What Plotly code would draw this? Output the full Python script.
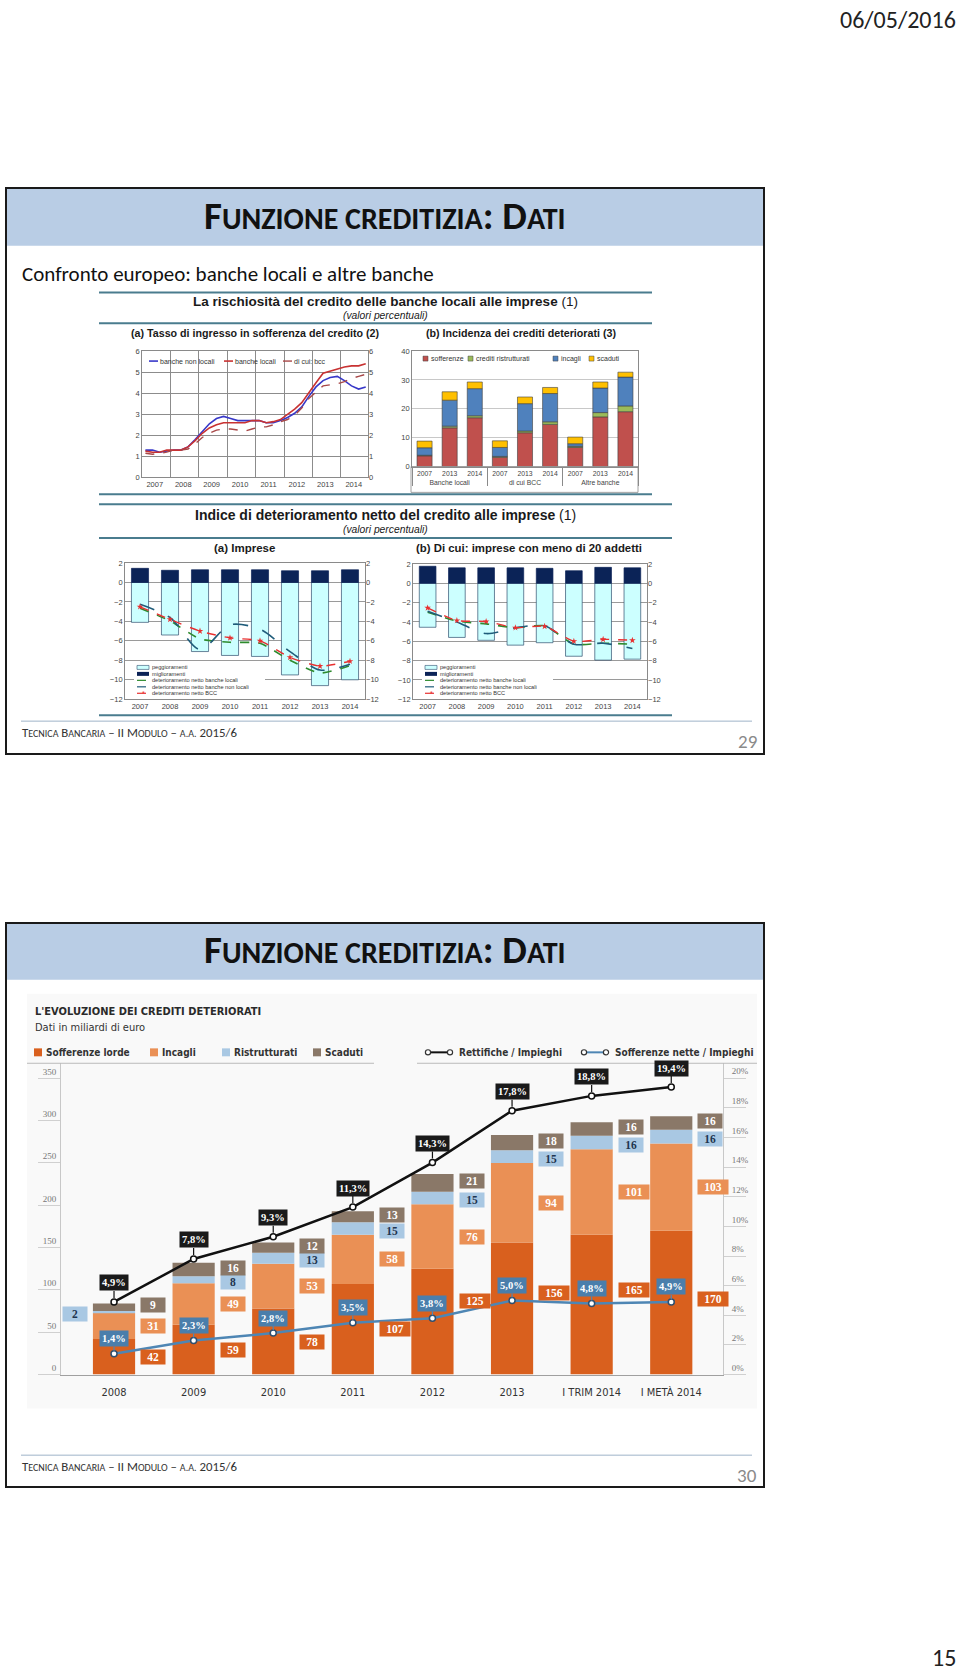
import plotly.graph_objects as go

W, H = 960, 1676
def X(p): return p / W
def Y(p): return 1 - p / H

ARI = "Liberation Sans, Arial, sans-serif"
CAL = "Carlito, Calibri, Open Sans, sans-serif"
CON = "DejaVu Sans Condensed, Liberation Sans Narrow, Roboto, sans-serif"
SER = "Liberation Serif, Times New Roman, serif"

# ---------------- DATA ----------------
# Slide 29, panel (a): tasso di ingresso in sofferenza (quarterly)
quarters = [2007.12, 2007.37, 2007.62, 2007.87, 2008.12, 2008.37, 2008.62, 2008.87,
            2009.12, 2009.37, 2009.62, 2009.87, 2010.12, 2010.37, 2010.62, 2010.87,
            2011.12, 2011.37, 2011.62, 2011.87, 2012.12, 2012.37, 2012.62, 2012.87,
            2013.12, 2013.37, 2013.62, 2013.87, 2014.12, 2014.37, 2014.62, 2014.87]
non_locali = [1.30, 1.30, 1.20, 1.25, 1.30, 1.30, 1.45, 1.80, 2.15, 2.55, 2.80, 2.90,
              2.80, 2.70, 2.70, 2.70, 2.70, 2.60, 2.60, 2.70, 2.85, 3.05, 3.35, 3.85,
              4.30, 4.60, 4.75, 4.80, 4.60, 4.35, 4.20, 4.30]
locali = [1.25, 1.20, 1.20, 1.30, 1.30, 1.30, 1.45, 1.75, 2.10, 2.35, 2.50, 2.60,
          2.60, 2.60, 2.60, 2.70, 2.70, 2.60, 2.65, 2.75, 3.00, 3.25, 3.55, 4.05,
          4.50, 4.95, 5.05, 5.15, 5.25, 5.30, 5.30, 5.40]
bcc = [1.15, 1.10, 1.15, 1.20, 1.30, 1.30, 1.35, 1.60, 1.90, 2.10, 2.25, 2.30,
       2.30, 2.25, 2.20, 2.30, 2.40, 2.40, 2.50, 2.65, 2.75, 2.95, 3.30, 3.75,
       4.05, 4.35, 4.40, 4.45, 4.55, 4.70, 4.80, 4.90]
years_a = ["2007", "2008", "2009", "2010", "2011", "2012", "2013", "2014"]
year_num = [2007, 2008, 2009, 2010, 2011, 2012, 2013, 2014]

# panel (b): incidenza dei crediti deteriorati
groups_b = ["Banche locali", "Banche locali", "Banche locali",
            "di cui BCC", "di cui BCC", "di cui BCC",
            "Altre banche", "Altre banche", "Altre banche"]
years_b = ["2007", "2013", "2014", "2007", "2013", "2014", "2007", "2013", "2014"]
sofferenze_b = [3.7, 13.4, 16.9, 3.2, 11.7, 14.6, 6.6, 17.2, 19.0]
ristrutturati_b = [0.2, 0.6, 0.7, 0.3, 0.6, 0.9, 0.4, 1.5, 2.0]
incagli_b = [2.6, 9.0, 9.4, 3.1, 9.5, 9.8, 0.9, 8.5, 10.0]
scaduti_b = [2.3, 2.9, 2.3, 2.3, 2.3, 2.1, 2.3, 2.1, 1.7]

# Indice di deterioramento netto: (a) Imprese
pegg_a = [-4.1, -5.4, -7.1, -7.5, -7.6, -9.5, -10.6, -10.0]
migl_a = [1.45, 1.25, 1.3, 1.3, 1.3, 1.2, 1.2, 1.3]
loc_a = [-2.65, -3.95, -5.8, -6.15, -6.25, -8.0, -9.3, -8.55]
nonloc_a = [-2.25, -3.6, -6.9, -4.35, -4.8, -7.1, -9.0, -8.4]
bcc_a = [-2.5, -3.8, -5.0, -5.7, -6.0, -7.7, -8.6, -8.1]
# (b) imprese con meno di 20 addetti
pegg_b = [-4.55, -5.6, -5.9, -6.4, -6.15, -7.55, -7.95, -7.85]
migl_b = [1.76, 1.6, 1.6, 1.6, 1.55, 1.3, 1.65, 1.6]
loc_b = [-3.0, -3.9, -4.2, -4.6, -4.4, -6.3, -6.2, -6.3]
nonloc_b = [-2.9, -4.0, -5.2, -4.6, -4.4, -6.3, -6.2, -6.75]
bcc_b = [-2.55, -3.85, -3.95, -4.6, -4.45, -6.0, -5.8, -5.9]

# Slide 30: l'evoluzione dei crediti deteriorati (mld euro)
periods = ["2008", "2009", "2010", "2011", "2012", "2013", "I TRIM 2014", "I METÀ 2014"]
soff_lorde = [42, 59, 78, 107, 125, 156, 165, 170]
incagli = [31, 49, 53, 58, 76, 94, 101, 103]
ristrutturati = [2, 8, 13, 15, 15, 15, 16, 16]
scaduti = [9, 16, 12, 13, 21, 18, 16, 16]
rettifiche = [4.9, 7.8, 9.3, 11.3, 14.3, 17.8, 18.8, 19.4]
soff_nette = [1.4, 2.3, 2.8, 3.5, 3.8, 5.0, 4.8, 4.9]
left_ticks = [0, 50, 100, 150, 200, 250, 300, 350]
right_ticks = [0, 2, 4, 6, 8, 10, 12, 14, 16, 18, 20]

# ---------------- STYLE ----------------
C_BLUE_A, C_RED_A, C_BCC_A = "#3838C8", "#C83232", "#A84848"
C_SOFF, C_RIS, C_INC, C_SCA = "#C0504D", "#9BBB59", "#4F81BD", "#FFC000"
C_PEG, C_MIG = "#CCFFFF", "#0B2357"
C_LOC, C_NONLOC, C_BCC = "#2E8B2E", "#1F5C7A", "#E83030"
S_SOFF, S_INC, S_RIS, S_SCA = "#D9601E", "#EA9055", "#A9C8E3", "#8A7868"
C_RET, C_NET = "#111111", "#4E86B4"

fig = go.Figure()
nohover = dict(hoverinfo="skip")

# panel (a)
fig.add_trace(go.Scatter(x=quarters, y=non_locali, mode="lines", name="banche non locali",
                         line=dict(color=C_BLUE_A, width=1.6), xaxis="x", yaxis="y", **nohover))
fig.add_trace(go.Scatter(x=quarters, y=locali, mode="lines", name="banche locali",
                         line=dict(color=C_RED_A, width=1.6), xaxis="x", yaxis="y", **nohover))
fig.add_trace(go.Scatter(x=quarters, y=bcc, mode="lines", name="di cui: bcc",
                         line=dict(color=C_BCC_A, width=1.4, dash="dash"), xaxis="x", yaxis="y", **nohover))
fig.add_trace(go.Scatter(x=[], y=[], xaxis="x", yaxis="y2", showlegend=False))

# panel (b)
for nm, vals, col in [("sofferenze", sofferenze_b, C_SOFF), ("crediti ristrutturati", ristrutturati_b, C_RIS),
                      ("incagli", incagli_b, C_INC), ("scaduti", scaduti_b, C_SCA)]:
    fig.add_trace(go.Bar(x=[groups_b, years_b], y=vals, name=nm, width=0.6,
                         marker=dict(color=col, line=dict(color="#404040", width=0.6)),
                         xaxis="x2", yaxis="y3", **nohover))

# panels (c) and (d)
def panel_cd(xa, ya, yr, pegg, migl, loc, nonloc, bc):
    fig.add_trace(go.Bar(x=year_num, y=pegg, name="peggioramenti", width=0.57,
                         marker=dict(color=C_PEG, line=dict(color="#2F4F6F", width=0.7)),
                         xaxis=xa, yaxis=ya, **nohover))
    fig.add_trace(go.Bar(x=year_num, y=migl, name="miglioramenti", width=0.57,
                         marker=dict(color=C_MIG, line=dict(color=C_MIG, width=0.7)),
                         xaxis=xa, yaxis=ya, **nohover))
    fig.add_trace(go.Scatter(x=year_num, y=loc, mode="lines", name="deterioramento netto banche locali",
                             line=dict(color=C_LOC, width=1.6, dash="dash", shape="spline", smoothing=0.6),
                             xaxis=xa, yaxis=ya, **nohover))
    fig.add_trace(go.Scatter(x=year_num, y=nonloc, mode="lines", name="deterioramento netto banche non locali",
                             line=dict(color=C_NONLOC, width=1.6, dash="longdash", shape="spline", smoothing=0.8),
                             xaxis=xa, yaxis=ya, **nohover))
    fig.add_trace(go.Scatter(x=year_num, y=bc, mode="lines+markers", name="deterioramento netto BCC",
                             line=dict(color=C_BCC, width=1.4, dash="dash", shape="spline", smoothing=0.6),
                             marker=dict(symbol="star", size=5, color=C_BCC),
                             xaxis=xa, yaxis=ya, **nohover))
    fig.add_trace(go.Scatter(x=[], y=[], xaxis=xa, yaxis=yr, showlegend=False))

panel_cd("x3", "y4", "y5", pegg_a, migl_a, loc_a, nonloc_a, bcc_a)
panel_cd("x4", "y6", "y7", pegg_b, migl_b, loc_b, nonloc_b, bcc_b)

# slide 30 chart
xs = list(range(len(periods)))
BW = 0.53
for nm, vals, col in [("Sofferenze lorde", soff_lorde, S_SOFF), ("Incagli", incagli, S_INC),
                      ("Ristrutturati", ristrutturati, S_RIS), ("Scaduti", scaduti, S_SCA)]:
    fig.add_trace(go.Bar(x=xs, y=vals, name=nm, width=BW, marker=dict(color=col, line=dict(width=0)),
                         xaxis="x5", yaxis="y8", **nohover))
fig.add_trace(go.Scatter(x=xs, y=rettifiche, mode="lines+markers", name="Rettifiche / Impieghi",
                         line=dict(color=C_RET, width=2.5),
                         marker=dict(symbol="circle", size=6, color="white", line=dict(color=C_RET, width=1.5)),
                         xaxis="x5", yaxis="y9", **nohover))
fig.add_trace(go.Scatter(x=xs, y=soff_nette, mode="lines+markers", name="Sofferenze nette / Impieghi",
                         line=dict(color=C_NET, width=2.5),
                         marker=dict(symbol="circle", size=6, color="white", line=dict(color="#2F4F6F", width=1.5)),
                         xaxis="x5", yaxis="y9", **nohover))

# ---------------- AXES ----------------
TF = dict(size=7.5, color="#444", family=ARI)
def ax(**kw):
    d = dict(showgrid=False, zeroline=False, ticks="", tickfont=TF, fixedrange=True)
    d.update(kw)
    return d

frame = dict(showline=True, mirror=True, linecolor="#8A8A8A", linewidth=0.8)
axes = dict(
    xaxis=ax(domain=[X(142), X(368)], range=[2007.0, 2014.95], anchor="y",
             tickvals=[v + 0.45 for v in year_num], ticktext=years_a,
             minor=dict(tickmode="array", tickvals=year_num[1:], showgrid=True, gridcolor="#8C8C8C", gridwidth=1),
             **frame),
    yaxis=ax(domain=[Y(476), Y(349)], range=[0, 6], dtick=1, anchor="x",
             showgrid=True, gridcolor="#8C8C8C", gridwidth=1, **frame),
    yaxis2=ax(overlaying="y", side="right", anchor="x", range=[0, 6], dtick=1),
    xaxis2=ax(domain=[X(412), X(638)], type="multicategory", anchor="y3",
              tickfont=dict(size=6.8, color="#444", family=ARI),
              showdividers=True, dividercolor="#8A8A8A", dividerwidth=0.8, **frame),
    yaxis3=ax(domain=[Y(465), Y(349)], range=[0, 40], dtick=10, anchor="x2",
              showgrid=True, gridcolor="#C8C8C8", gridwidth=1, **frame),
    xaxis3=ax(domain=[X(125), X(365)], range=[2006.5, 2014.5], anchor="y4",
              tickvals=year_num, ticktext=years_a, **frame),
    yaxis4=ax(domain=[Y(699), Y(562)], range=[-12, 2], dtick=2, anchor="x3",
              showgrid=True, gridcolor="#9A9A9A", gridwidth=0.8, **frame),
    yaxis5=ax(overlaying="y4", side="right", anchor="x3", range=[-12, 2], dtick=2),
    xaxis4=ax(domain=[X(413), X(647)], range=[2006.5, 2014.5], anchor="y6",
              tickvals=year_num, ticktext=years_a, **frame),
    yaxis6=ax(domain=[Y(699), Y(563)], range=[-12, 2], dtick=2, anchor="x4",
              showgrid=True, gridcolor="#9A9A9A", gridwidth=0.8, **frame),
    yaxis7=ax(overlaying="y6", side="right", anchor="x4", range=[-12, 2], dtick=2),
    xaxis5=ax(domain=[X(61), X(723)], range=[-0.666, 7.65], anchor="y8",
              tickvals=xs, ticktext=periods, ticklabelstandoff=7,
              tickfont=dict(size=11, color="#333", family=CON),
              showline=True, linecolor="#A0A0A0", linewidth=1),
    yaxis8=ax(domain=[Y(1378), Y(1065)], range=[0, 367.6], anchor="x5",
              tickvals=left_ticks, ticktext=[str(v) for v in left_ticks],
              ticklabelposition="outside top", ticks="outside", ticklen=22, tickcolor="#D0D0D0",
              ticklabelstandoff=2,
              tickfont=dict(size=9, color="#777", family=SER),
              showline=True, linecolor="#C8C8C8", linewidth=1),
    yaxis9=ax(overlaying="y8", side="right", anchor="x5", range=[0, 21.0],
              tickvals=right_ticks, ticktext=[f"{v}%" for v in right_ticks],
              ticklabelposition="outside top", ticks="outside", ticklen=22, tickcolor="#D0D0D0",
              ticklabelstandoff=6,
              tickfont=dict(size=9, color="#777", family=SER),
              showline=True, linecolor="#C8C8C8", linewidth=1),
)

# ---------------- SHAPES & TEXT ----------------
shapes, anns = [], []

def R(x0, y0, x1, y1, fill=None, line=None, lw=1, layer="above"):
    shapes.append(dict(type="rect", xref="paper", yref="paper", x0=X(x0), x1=X(x1), y0=Y(y1), y1=Y(y0),
                       fillcolor=fill if fill else "rgba(0,0,0,0)",
                       line=dict(color=line if line else "rgba(0,0,0,0)", width=lw if line else 0), layer=layer))

def L(x0, y0, x1, y1, color, lw=1, dash=None, layer="above"):
    d = dict(color=color, width=lw)
    if dash:
        d["dash"] = dash
    shapes.append(dict(type="line", xref="paper", yref="paper", x0=X(x0), x1=X(x1), y0=Y(y0), y1=Y(y1),
                       line=d, layer=layer))

def C(cx, cy, r, fill, line, lw=1.2):
    shapes.append(dict(type="circle", xref="paper", yref="paper", x0=X(cx - r), x1=X(cx + r),
                       y0=Y(cy + r), y1=Y(cy - r), fillcolor=fill, line=dict(color=line, width=lw)))

def T(x, y, s, size, color="#000", family=ARI, xa="left", ya="middle"):
    anns.append(dict(xref="paper", yref="paper", x=X(x), y=Y(y), text=s, showarrow=False,
                     xanchor=xa, yanchor=ya, font=dict(size=size, color=color, family=family), borderpad=0))

# slide frames
R(7, 186, 763, 243, fill="#B9CDE5", layer="below")
R(7, 925, 763, 981, fill="#B9CDE5", layer="below")
R(27, 995, 757, 1412, fill="#F9F9F9", layer="below")
R(6, 185, 764, 754, line="#1A1A1A", lw=2)
R(6, 924, 764, 1491, line="#1A1A1A", lw=2)

# date and page numbers
T(957, 16, "06/05/2016", 24, "#222", CAL, xa="right")
T(957, 1662, "15", 24, "#222", CAL, xa="right")

SC = "font-size:{}px"
def smallcaps_title():
    s = SC.format(30)
    return (f"<b>F<span style='{s}'>UNZIONE CREDITIZIA</span>: D<span style='{s}'>ATI</span></b>")
T(385, 213, smallcaps_title(), 39, "#111", CAL, xa="center")
T(385, 951, smallcaps_title(), 39, "#111", CAL, xa="center")

def footer(y, page):
    s = SC.format(10)
    txt = (f"T<span style='{s}'>ECNICA</span> B<span style='{s}'>ANCARIA</span> – II "
           f"M<span style='{s}'>ODULO</span> – <span style='{s}'>A.A.</span> 2015/6")
    T(21, y, txt, 12.8, "#333", CAL)
    T(758, y + 9, page, 19, "#8A8A8A", CAL, xa="right")
L(21, 721, 752, 721, "#9FB3C8", 1)
footer(732, "29")
L(21, 1459, 752, 1459, "#9FB3C8", 1)
footer(1470, "30")

T(21, 271, "Confronto europeo: banche locali e altre banche", 21, "#111", CAL)

# chart 1 headers
RULE = "#4A7C8E"
L(99, 290, 652, 290, RULE, 2)
L(99, 321, 652, 321, RULE, 2)
L(99, 493, 652, 493, RULE, 2)
T(385, 299, "<b>La rischiosità del credito delle banche locali alle imprese</b> (1)", 13.5, "#1A1A1A", ARI, xa="center")
T(385, 313, "<i>(valori percentuali)</i>", 10.3, "#1A1A1A", ARI, xa="center")
T(255, 331, "<b>(a) Tasso di ingresso in sofferenza del credito (2)</b>", 10.7, "#1A1A1A", ARI, xa="center")
T(521, 331, "<b>(b) Incidenza dei crediti deteriorati (3)</b>", 10.7, "#1A1A1A", ARI, xa="center")

# chart 2 headers
L(99, 503, 672, 503, RULE, 2)
L(99, 537, 672, 537, RULE, 2)
L(99, 715, 672, 715, RULE, 2)
T(385, 514, "<b>Indice di deterioramento netto del credito alle imprese</b> (1)", 14, "#1A1A1A", ARI, xa="center")
T(385, 528, "<i>(valori percentuali)</i>", 10.3, "#1A1A1A", ARI, xa="center")
T(245, 547, "<b>(a) Imprese</b>", 11.5, "#1A1A1A", ARI, xa="center")
T(529, 547, "<b>(b) Di cui: imprese con meno di 20 addetti</b>", 11.4, "#1A1A1A", ARI, xa="center")

# legend panel (a)
LF = 7
L(149, 359, 158, 359, C_BLUE_A, 1.6); T(159, 359, "banche non locali", LF, "#333")
L(224, 359, 233, 359, C_RED_A, 1.6); T(234, 359, "banche locali", LF, "#333")
L(283, 359, 292, 359, C_BCC_A, 1.4, "dash"); T(293, 359, "di cui: bcc", LF, "#333")

# legend panel (b)
R(411, 465, 638, 491, line="#8A8A8A", lw=0.8)
for x0, col, lab in [(423, C_SOFF, "sofferenze"), (468, C_RIS, "crediti ristrutturati"),
                     (553, C_INC, "incagli"), (589, C_SCA, "scaduti")]:
    R(x0, 354, x0 + 5, 359, fill=col, line="#404040", lw=0.5)
    T(x0 + 7, 356.5, lab, LF, "#333")

# legends panels (c),(d)
def legend_cd(x0):
    R(x0 - 3, 663, x0 + 128, 698, fill="white")
    rows = [667, 673.5, 680, 686.5, 693]
    R(x0, rows[0] - 2, x0 + 12, rows[0] + 2, fill=C_PEG, line="#2F4F6F", lw=0.6)
    R(x0, rows[1] - 2, x0 + 12, rows[1] + 2, fill=C_MIG)
    L(x0, rows[2], x0 + 12, rows[2], C_LOC, 1.2, "dash")
    L(x0, rows[3], x0 + 12, rows[3], C_NONLOC, 1.2, "dash")
    L(x0, rows[4], x0 + 12, rows[4], C_BCC, 1.2, "dash")
    T(x0 + 6, rows[4] + 0.5, "*", 7, C_BCC, xa="center")
    labs = ["peggioramenti", "miglioramenti", "deterioramento netto banche locali",
            "deterioramento netto banche non locali", "deterioramento netto BCC"]
    for r, lab in zip(rows, labs):
        T(x0 + 14, r, lab, 5.6, "#333")
legend_cd(137)
legend_cd(425)

# slide 30 headers and legend
T(34, 1013, "<b>L'EVOLUZIONE DEI CREDITI DETERIORATI</b>", 11, "#2A2A2A", CON)
T(34, 1029, "Dati in miliardi di euro", 11, "#333", CON)
for x0, col, lab in [(34, S_SOFF, "Sofferenze lorde"), (150, S_INC, "Incagli"),
                     (222, S_RIS, "Ristrutturati"), (313, S_SCA, "Scaduti")]:
    R(x0, 1050, x0 + 8, 1058, fill=col)
    T(x0 + 11, 1054, f"<b>{lab}</b>", 10, "#333", CON)
for x0, col, lab in [(428, C_RET, "Rettifiche / Impieghi"), (584, C_NET, "Sofferenze nette / Impieghi")]:
    L(x0, 1054, x0 + 22, 1054, col, 2)
    C(x0, 1054, 2.6, "white", "#333", 1.2)
    C(x0 + 22, 1054, 2.6, "white", "#333", 1.2)
    T(x0 + 30, 1054, f"<b>{lab}</b>", 10, "#333", CON)
L(27, 1065, 374, 1065, "#BBBBBB", 1)
L(417, 1065, 757, 1065, "#BBBBBB", 1)

# value labels next to bars
def fmt_pct(v):
    return f"{v:.1f}".replace(".", ",") + "%"

soff_shift = [0, 0, 0, 0, 21, 16, 15, 4]
segments = [(soff_lorde, S_SOFF, "white"), (incagli, S_INC, "white"),
            (ristrutturati, S_RIS, "#1F3550"), (scaduti, S_SCA, "white")]
for i in xs:
    base = 0
    for k, (vals, col, tcol) in enumerate(segments):
        v = vals[i]
        center = base + v / 2
        base += v
        shift = 0
        if k == 0:
            shift = soff_shift[i]
        elif k == 2:
            shift = -2
        elif k == 3:
            shift = 2
        left_side = (k == 2 and i == 0)
        txt = str(v)
        anns.append(dict(xref="x5", yref="y8", x=i - BW / 2 if left_side else i + BW / 2, y=center,
                         xanchor="right" if left_side else "left", yanchor="middle",
                         xshift=-5 if left_side else 5, yshift=shift,
                         text=f"<b>{txt}</b>", showarrow=False, bgcolor=col, borderpad=1,
                         width=22 if len(txt) < 3 else 28,
                         font=dict(size=11.5, color=tcol, family=SER)))

for i in xs:
    anns.append(dict(xref="x5", yref="y9", x=i, y=rettifiche[i], text=f"<b>{fmt_pct(rettifiche[i])}</b>",
                     showarrow=True, ax=0, ay=-19, arrowhead=0, arrowwidth=1.2, arrowcolor="#111",
                     standoff=4, bgcolor="#1A1A1A", borderpad=2,
                     font=dict(size=10.5, color="white", family=SER)))
    anns.append(dict(xref="x5", yref="y9", x=i, y=soff_nette[i], text=f"<b>{fmt_pct(soff_nette[i])}</b>",
                     showarrow=True, ax=0, ay=-15, arrowhead=0, arrowwidth=1.2, arrowcolor=C_NET,
                     standoff=3, bgcolor="#4A7EAB", borderpad=2,
                     font=dict(size=10.5, color="white", family=SER)))

fig.update_layout(width=W, height=H, margin=dict(l=0, r=0, t=0, b=0),
                  paper_bgcolor="white", plot_bgcolor="rgba(0,0,0,0)",
                  showlegend=False, barmode="relative",
                  shapes=shapes, annotations=anns, **axes)

fig.write_html("out.html", config={"displayModeBar": False})
